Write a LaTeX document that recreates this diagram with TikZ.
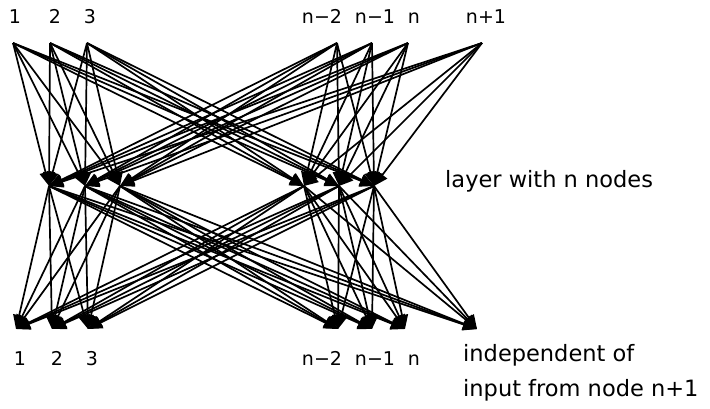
\documentclass[tikz,border=0pt]{standalone}
\usepackage{fontspec}
\setmainfont{DejaVu Sans}
\usetikzlibrary{arrows.meta}
\begin{document}
\begin{tikzpicture}[x=1pt,y=-1pt,
  conn/.style={line width=1.7pt,-{Triangle[length=14pt,width=12pt]}},
  numlab/.style={anchor=base,inner sep=0pt,font=\fontsize{19}{22}\selectfont},
  txtlab/.style={anchor=base west,inner sep=0pt,font=\fontsize{22.5}{26}\selectfont}]
\useasboundingbox (0,0) rectangle (710,408);
% top layer (inputs)
\coordinate (t1) at (13,43);
\coordinate (t2) at (50,43);
\coordinate (t3) at (87,43);
\coordinate (t4) at (337,43);
\coordinate (t5) at (372,43);
\coordinate (t6) at (408,43);
\coordinate (t7) at (482,43);
% middle layer
\coordinate (m1) at (49,186);
\coordinate (m2) at (85,186);
\coordinate (m3) at (120,186);
\coordinate (m4) at (304,186);
\coordinate (m5) at (339,186);
\coordinate (m6) at (374,186);
% bottom layer
\coordinate (b1) at (16,329);
\coordinate (b2) at (52,329);
\coordinate (b3) at (88,329);
\coordinate (b4) at (338,329);
\coordinate (b5) at (372,329);
\coordinate (b6) at (405,329);
\coordinate (b7) at (477,329);
% connectors
\foreach \i in {1,...,7}{
  \foreach \j in {1,...,6}{
    \draw[conn] (t\i) -- (m\j);
  }
}
\foreach \j in {1,...,6}{
  \foreach \k in {1,...,7}{
    \draw[conn] (m\j) -- (b\k);
  }
}
% top labels
\node[numlab] (lt1) at (15,23) {1};
\node[numlab] (lt2) at (55,23) {2};
\node[numlab] (lt3) at (90,23) {3};
\node[numlab] (lt4) at (322,23) {n−2};
\node[numlab] (lt5) at (375,23) {n−1};
\node[numlab] (lt6) at (414,23) {n};
\node[numlab] (lt7) at (486,23) {n+1};
% bottom labels
\node[numlab] (lb1) at (20,365) {1};
\node[numlab] (lb2) at (57,365) {2};
\node[numlab] (lb3) at (92,365) {3};
\node[numlab] (lb4) at (322,365) {n−2};
\node[numlab] (lb5) at (375,365) {n−1};
\node[numlab] (lb6) at (414,365) {n};
% annotations
\node[txtlab] (layer) at (445,187) {layer with n nodes};
\node[txtlab] (indep1) at (463,361) {independent of};
\node[txtlab] (indep2) at (463,396) {input from node n+1};
\end{tikzpicture}
\end{document}
